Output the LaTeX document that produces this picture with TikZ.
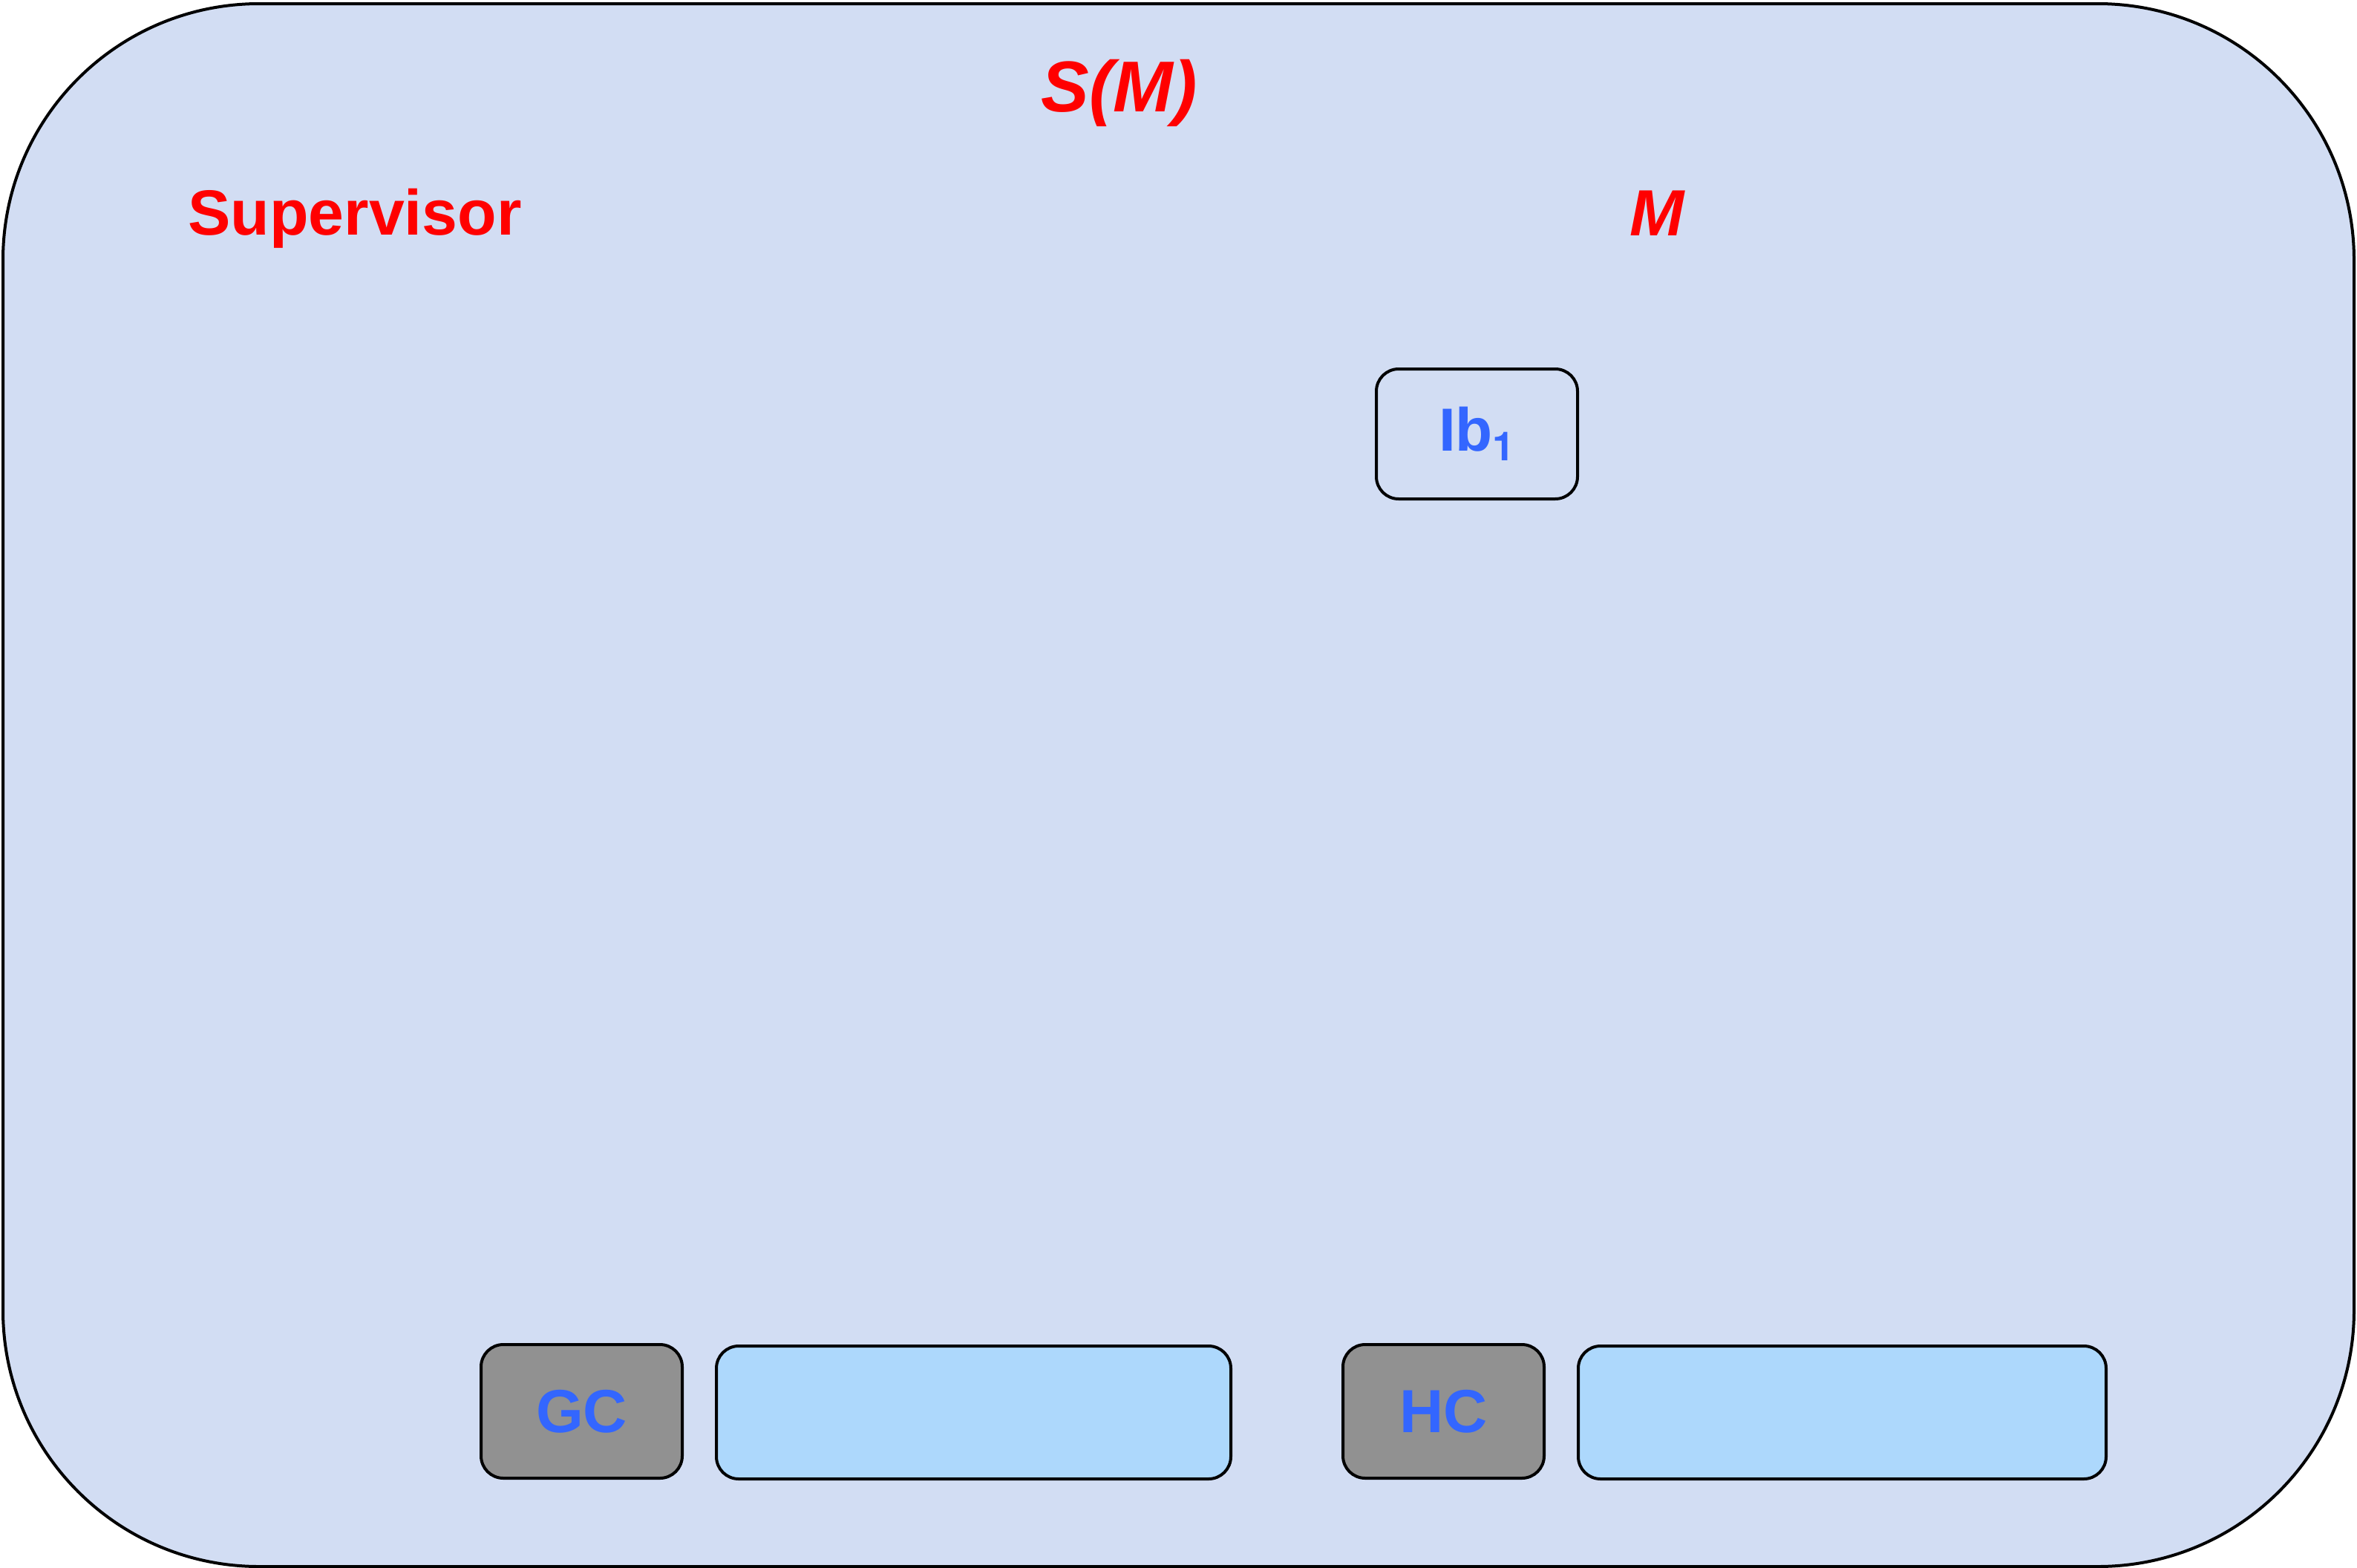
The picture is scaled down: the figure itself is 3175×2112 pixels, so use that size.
\documentclass[tikz,border=0pt]{standalone}
\usepackage{fontspec}
\setmainfont{Liberation Sans}
\newfontfamily\herosfont{TeX Gyre Heros}
\definecolor{bgfill}{RGB}{210,221,243}
\definecolor{boxgray}{RGB}{145,145,145}
\definecolor{boxblue}{RGB}{173,216,252}
\definecolor{txtblue}{RGB}{51,102,255}
\definecolor{txtred}{RGB}{255,0,0}
\begin{document}
\begin{tikzpicture}[x=1pt,y=-1pt,
  inner/.style={draw=black, line width=4pt, rounded corners=30pt, rectangle, inner sep=0pt,
    font=\fontsize{82}{90}\selectfont\bfseries, text=txtblue},
  redlabel/.style={anchor=base, text=txtred, inner sep=0pt},
]
\useasboundingbox (0,0) rectangle (3175,2112);
\node[draw=black, line width=4pt, fill=bgfill, rounded corners=345pt, rectangle, inner sep=0pt,
  minimum width=3167pt, minimum height=2105pt] (outer) at (1587.5,1057.5) {};
\node[redlabel, font=\fontsize{97}{100}\selectfont\bfseries\itshape] (sm) at (1508,150) {S(M)};
\node[redlabel, font=\fontsize{86}{95}\selectfont\bfseries] (sup) at (478,316) {Supervisor};
\node[redlabel, font=\fontsize{88}{95}\selectfont\bfseries\itshape] (m) at (2232,317) {M};
\node[inner, minimum width=271pt, minimum height=175pt] (ib) at (1989.5,584.5)
  {Ib{\herosfont\fontsize{54}{54}\selectfont\bfseries\raisebox{-13pt}{1}}};
\node[inner, fill=boxgray, minimum width=271pt, minimum height=180pt] (gc) at (783.5,1901) {GC};
\node[inner, fill=boxblue, minimum width=693pt, minimum height=179pt] (b1) at (1311.5,1902.5) {};
\node[inner, fill=boxgray, minimum width=271pt, minimum height=180pt] (hc) at (1944.5,1901) {HC};
\node[inner, fill=boxblue, minimum width=711pt, minimum height=179pt] (b2) at (2481.5,1902.5) {};
\end{tikzpicture}
\end{document}
